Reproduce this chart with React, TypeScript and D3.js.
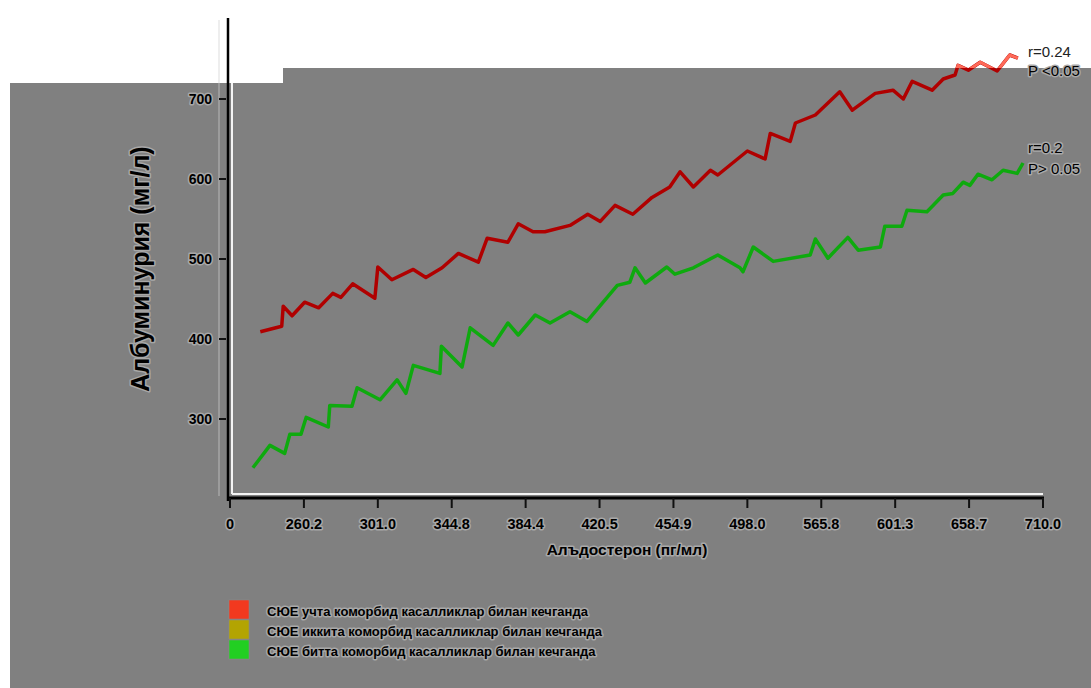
import { useMemo } from "react";
import * as d3 from "d3";

const WIDTH = 1091;
const HEIGHT = 688;
const FONT = "'Liberation Sans', Arial, sans-serif";

// x positions are in tick-slot units (the axis labels are evenly spaced, not linear)
const xTickLabels = ["0", "260.2", "301.0", "344.8", "384.4", "420.5", "454.9", "498.0", "565.8", "601.3", "658.7", "710.0"];
const yTicks = [300, 400, 500, 600, 700];

const redX = [0.41, 0.7, 0.72, 0.84, 1.01, 1.2, 1.39, 1.5, 1.66, 1.96, 2.0, 2.19, 2.48, 2.65, 2.87, 3.09, 3.36, 3.48, 3.76, 3.9, 4.1, 4.26, 4.6, 4.84, 5.01, 5.21, 5.45, 5.71, 5.95, 6.09, 6.27, 6.5, 6.6, 7.0, 7.24, 7.31, 7.58, 7.65, 7.92, 8.25, 8.42, 8.73, 8.97, 9.11, 9.23, 9.5, 9.65, 9.81, 9.85, 9.99, 10.15, 10.38, 10.55, 10.66];
const redY = [409, 416, 441, 429, 446, 439, 457, 452, 469, 451, 490, 474, 487, 477, 489, 507, 496, 526, 521, 544, 534, 534, 542, 556, 547, 567, 556, 577, 590, 609, 590, 611, 605, 635, 625, 657, 647, 670, 680, 709, 686, 707, 711, 700, 722, 711, 725, 730, 742, 736, 746, 735, 755, 751];

const greenX = [0.31, 0.54, 0.74, 0.81, 0.96, 1.03, 1.33, 1.35, 1.65, 1.72, 2.03, 2.26, 2.38, 2.48, 2.84, 2.86, 3.14, 3.25, 3.56, 3.76, 3.9, 4.13, 4.33, 4.6, 4.83, 5.24, 5.41, 5.48, 5.62, 5.91, 6.02, 6.27, 6.6, 6.9, 6.94, 7.08, 7.35, 7.85, 7.92, 8.09, 8.36, 8.5, 8.8, 8.86, 9.09, 9.16, 9.43, 9.65, 9.78, 9.92, 10.01, 10.12, 10.31, 10.46, 10.65, 10.73];
const greenY = [239, 267, 257, 281, 281, 302, 290, 317, 316, 339, 324, 349, 332, 367, 357, 391, 365, 414, 392, 420, 405, 430, 420, 434, 422, 467, 471, 489, 470, 490, 481, 489, 505, 489, 484, 515, 497, 505, 525, 501, 527, 511, 515, 541, 541, 561, 559, 580, 582, 596, 592, 606, 599, 611, 607, 620];

const legendLabels = [
  "СЮЕ учта коморбид касалликлар билан кечганда",
  "СЮЕ иккита коморбид касалликлар билан кечганда",
  "СЮЕ битта коморбид касалликлар билан кечганда",
];
const legendColors = ["#f2391f", "#b3a402", "#22cf22"];

const halo = { paintOrder: "stroke" as const, stroke: "#a8a8a8", strokeWidth: 3, strokeLinejoin: "round" as const };

export default function App() {
  const xScale = useMemo(() => d3.scaleLinear().domain([0, 11]).range([230, 1043]), []);
  const yScale = useMemo(() => d3.scaleLinear().domain([300, 700]).range([419, 99]), []);

  const line = d3
    .line<[number, number]>()
    .x((d) => xScale(d[0]))
    .y((d) => yScale(d[1]));

  const redPath = line(redX.map((x, i) => [x, redY[i]]))!;
  const greenPath = line(greenX.map((x, i) => [x, greenY[i]]))!;

  const axisY = 498;
  const axisX = 228;

  return (
    <svg
      width={WIDTH}
      height={HEIGHT}
      style={{ position: "absolute", left: 0, top: 0, display: "block", background: "#fff" }}
      fontFamily={FONT}
    >
      <defs>
        <clipPath id="whiteTop">
          <rect x={0} y={0} width={WIDTH} height={68} />
        </clipPath>
      </defs>

      {/* grey scan background */}
      <path d={`M10,83 H283 V68 H${WIDTH} V${HEIGHT} H10 Z`} fill="#808080" />

      {/* axis shadows */}
      <line x1={219} x2={219} y1={20} y2={496} stroke="#d0d0d0" strokeWidth={1} opacity={0.7} />
      <line x1={232} x2={232} y1={83} y2={494} stroke="#f4f4f4" strokeWidth={2} />
      <line x1={232} x2={1043} y1={494} y2={494} stroke="#f4f4f4" strokeWidth={2} />

      {/* y axis */}
      <line x1={axisX} x2={axisX} y1={18} y2={axisY + 3} stroke="#000" strokeWidth={2.5} />
      {yTicks.map((t) => (
        <g key={t} transform={`translate(0,${yScale(t)})`}>
          <line x1={219} x2={226} stroke="#111" strokeWidth={2} />
          <text x={212} dy="0.35em" textAnchor="end" fontSize={14} fontWeight="bold" fill="#000" style={halo}>
            {t}
          </text>
        </g>
      ))}
      <text
        transform="translate(140,269) rotate(-90)"
        textAnchor="middle"
        dy="0.35em"
        fontSize={25}
        fontWeight="bold"
        fill="#000"
        style={halo}
      >
        Албуминурия (мг/л)
      </text>

      {/* x axis */}
      <line x1={axisX} x2={1044} y1={axisY} y2={axisY} stroke="#000" strokeWidth={3} />
      {xTickLabels.map((lab, i) => (
        <g key={lab} transform={`translate(${xScale(i)},0)`}>
          <line y1={axisY} y2={axisY + 10} stroke="#111" strokeWidth={2} />
          <text y={524} dy="0.35em" textAnchor="middle" fontSize={14.5} fontWeight="bold" fill="#000" style={halo}>
            {lab}
          </text>
        </g>
      ))}
      <text x={627} y={550} dy="0.35em" textAnchor="middle" fontSize={15.5} fontWeight="bold" fill="#000" style={halo}>
        Алъдостерон (пг/мл)
      </text>

      {/* series */}
      <path d={greenPath} fill="none" stroke="#0eaa0e" strokeWidth={3.5} strokeLinejoin="round" />
      <path d={redPath} fill="none" stroke="#b00000" strokeWidth={3.5} strokeLinejoin="round" />
      <path d={redPath} fill="none" stroke="#ff6a58" strokeWidth={3} strokeLinejoin="round" clipPath="url(#whiteTop)" />

      {/* correlation notes */}
      <text x={1028} y={52} dy="0.35em" fontSize={15} fill="#222">r=0.24</text>
      <text x={1028} y={71} dy="0.35em" fontSize={15} fill="#000" style={halo}>P &lt;0.05</text>
      <text x={1028} y={148} dy="0.35em" fontSize={15} fill="#000" style={halo}>r=0.2</text>
      <text x={1028} y={169} dy="0.35em" fontSize={15} fill="#000" style={halo}>P&gt; 0.05</text>

      {/* legend */}
      {legendLabels.map((lab, i) => (
        <g key={lab} transform={`translate(229,${600 + i * 20})`}>
          <rect width={20} height={19} fill={legendColors[i]} stroke="#8a8a8a" strokeWidth={0.5} />
          <text x={38} y={11} dy="0.35em" fontSize={13} fontWeight="bold" fill="#000" style={halo}>
            {lab}
          </text>
        </g>
      ))}
    </svg>
  );
}
